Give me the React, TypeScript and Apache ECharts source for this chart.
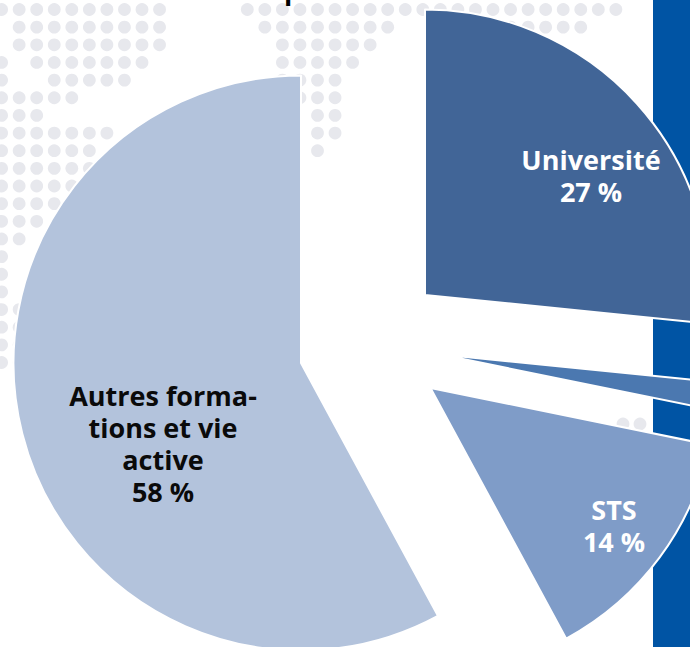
import React, { useEffect, useRef } from "react";
import * as echarts from "echarts";

const FONT = "'Open Sans', Lato, sans-serif";

// Slice values as measured from the angles of the picture (percent)
const sliceNames = ["Université", "Autres", "STS", "Autres formations et vie active"];
const sliceValues = [26.6, 1.6, 13.9, 57.9];
const sliceColors = ["#416597", "#4B78B0", "#7F9CC8", "#B3C3DC"];
const sliceLabels = ["Université\n27 %", "", "STS\n14 %", "Autres forma-\ntions et vie\nactive\n58 %"];
const labelColors = ["#FFFFFF", "#FFFFFF", "#FFFFFF", "#0A0A0A"];

// Exploded geometry of each slice
const sliceCenters: [number, number][] = [[425, 295], [441, 354.5], [430.5, 388], [301, 363]];
const sliceRadii = [285.5, 285, 285, 287.5];
const labelAnchors: [number, number][] = [[591, 175.5], [0, 0], [614, 525], [163, 443]];

// Background dot map: [row, firstCol, lastCol]
const dotRuns: [number, number, number][] = [
  [0, 0, 9], [0, 14, 35],
  [1, 1, 9], [1, 15, 22], [1, 29, 33],
  [2, 1, 9], [2, 16, 21],
  [3, 0, 0], [3, 2, 8], [3, 16, 20],
  [4, 0, 0], [4, 3, 7], [4, 16, 19],
  [5, 0, 4], [5, 17, 19],
  [6, 0, 2], [6, 18, 19],
  [7, 0, 6], [7, 18, 19],
  [8, 0, 5], [8, 18, 18],
  [9, 0, 5],
  [10, 0, 4],
  [11, 0, 3],
  [12, 0, 2],
  [13, 0, 1],
  [14, 0, 0], [15, 0, 0], [16, 0, 0],
  [17, 0, 1], [18, 0, 1], [19, 0, 1], [20, 0, 1],
];
const extraDots: [number, number][] = [[623, 424], [640, 424]];

function buildDots() {
  const dots: any[] = [];
  const add = (cx: number, cy: number) =>
    dots.push({ type: "circle", silent: true, shape: { cx, cy, r: 6.4 }, style: { fill: "#E7E8ED" } });
  dotRuns.forEach(([row, a, b]) => {
    for (let c = a; c <= b; c++) add(1.6 + 17.55 * c, 9.5 + 17.65 * row);
  });
  extraDots.forEach(([x, y]) => add(x, y));
  return dots;
}

export default function App() {
  const ref = useRef<HTMLDivElement>(null);
  useEffect(() => {
    document.body.style.margin = "0";
    const chart = echarts.init(ref.current!, undefined, { renderer: "svg" });
    let cursor = 0;
    const series = sliceValues.map((v, i) => {
      const startAngle = 90 - (cursor / 100) * 360;
      cursor += v;
      const [lx, ly] = labelAnchors[i];
      return {
        type: "pie",
        silent: true,
        center: sliceCenters[i],
        radius: sliceRadii[i],
        startAngle,
        clockwise: true,
        avoidLabelOverlap: false,
        labelLine: { show: false },
        labelLayout: (p: any) =>
          p.dataIndex === 0 ? { x: lx, y: ly, align: "center", verticalAlign: "middle" } : {},
        data: [
          {
            name: sliceNames[i],
            value: v,
            itemStyle: { color: sliceColors[i], borderColor: "#FFFFFF", borderWidth: 2 },
            label: {
              show: sliceLabels[i] !== "",
              position: "inside",
              formatter: sliceLabels[i],
              color: labelColors[i],
              fontFamily: FONT,
              fontWeight: "bold",
              fontSize: 27,
              lineHeight: 32,
              align: "center",
            },
          },
          {
            name: "",
            value: 100 - v,
            itemStyle: { color: "transparent", borderWidth: 0 },
            label: { show: false },
          },
        ],
      };
    });
    chart.setOption({
      animation: false,
      graphic: [
        { type: "group", silent: true, z: 0, children: buildDots() },
        { type: "rect", silent: true, z: 0, shape: { x: 653, y: 0, width: 37, height: 647 }, style: { fill: "#0054A4" } },
        {
          type: "text",
          silent: true,
          z: 0,
          x: 284,
          y: -24,
          style: { text: "p", fontFamily: FONT, fontWeight: "bold", fontSize: 27, fill: "#000000" },
        },
      ],
      series,
    });
    return () => chart.dispose();
  }, []);
  return <div ref={ref} style={{ width: 690, height: 647 }} />;
}
